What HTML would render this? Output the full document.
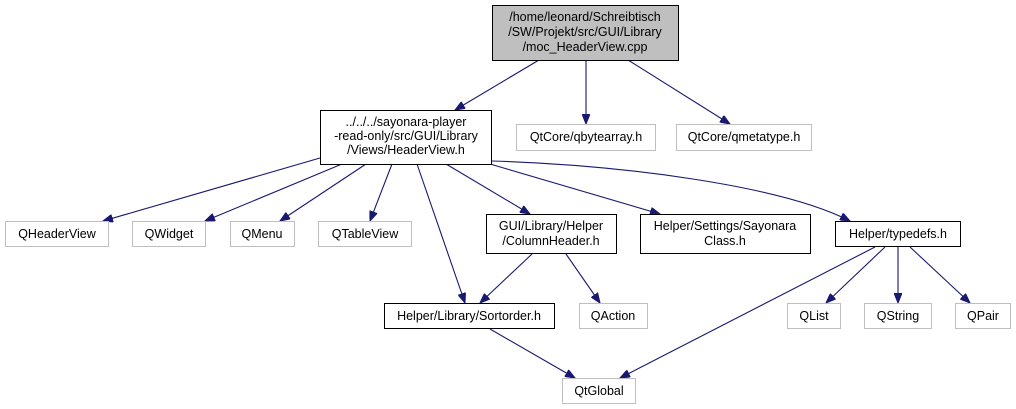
<!DOCTYPE html>
<html><head><meta charset="utf-8"><style>
html,body{margin:0;padding:0;background:#fff;width:1016px;height:409px;overflow:hidden}
svg text{font-family:"Liberation Sans",Arial,sans-serif;font-size:12.5px;fill:#000;text-anchor:middle;dominant-baseline:central}
.e{stroke:#191970;stroke-width:1.1;fill:none;marker-end:url(#a)}
.n{fill:#fff;stroke:#000;stroke-width:1}
.g{fill:#fff;stroke:#bfbfbf;stroke-width:1}
</style></head><body>
<svg width="1016" height="409" viewBox="0 0 1016 409" xmlns="http://www.w3.org/2000/svg">
<defs><marker id="a" markerWidth="11" markerHeight="8" refX="10" refY="4" orient="auto" markerUnits="userSpaceOnUse"><path d="M0,0 L10,4 L0,8 z" fill="#191970" stroke="#191970"/></marker></defs>
<path class="e" d="M539,60 L455,110"/>
<path class="e" d="M586,60 L586,124"/>
<path class="e" d="M628,60 L730,124"/>
<path class="e" d="M320,158 L103,221"/>
<path class="e" d="M342,164 L205,221"/>
<path class="e" d="M366,164 L280,221"/>
<path class="e" d="M392,164 L370,221"/>
<path class="e" d="M417,164 L465,303"/>
<path class="e" d="M446,164 L530,214"/>
<path class="e" d="M490,164 L660,214"/>
<path class="e" d="M492,161 C620,165 780,185 850,221"/>
<path class="e" d="M532,254 L480,303"/>
<path class="e" d="M566,254 L600,303"/>
<path class="e" d="M490,329 L575,378"/>
<path class="e" d="M875,247 L620,378"/>
<path class="e" d="M885,247 L826,303"/>
<path class="e" d="M898,247 L898,303"/>
<path class="e" d="M910,247 L970,303"/>

<rect x="492.5" y="5.5" width="186" height="55" fill="#bfbfbf" stroke="#000"/>
<text x="585" y="17">/home/leonard/Schreibtisch</text>
<text x="585" y="32">/SW/Projekt/src/GUI/Library</text>
<text x="585" y="47">/moc_HeaderView.cpp</text>

<rect class="n" x="320.5" y="110.5" width="171" height="54"/>
<text x="406" y="122">../../../sayonara-player</text>
<text x="406" y="136">-read-only/src/GUI/Library</text>
<text x="406" y="150">/Views/HeaderView.h</text>

<rect class="g" x="516.5" y="124.5" width="139" height="26"/><text x="586" y="137">QtCore/qbytearray.h</text>
<rect class="g" x="676.5" y="124.5" width="135" height="26"/><text x="744" y="137">QtCore/qmetatype.h</text>

<rect class="g" x="5.5" y="221.5" width="103" height="25"/><text x="57" y="234">QHeaderView</text>
<rect class="g" x="132.5" y="221.5" width="73" height="25"/><text x="169" y="234">QWidget</text>
<rect class="g" x="230.5" y="221.5" width="64" height="25"/><text x="262" y="234">QMenu</text>
<rect class="g" x="318.5" y="221.5" width="93" height="25"/><text x="365" y="234">QTableView</text>

<rect class="n" x="486.5" y="214.5" width="130" height="39"/>
<text x="551" y="226">GUI/Library/Helper</text>
<text x="551" y="241">/ColumnHeader.h</text>
<rect class="n" x="640.5" y="214.5" width="170" height="39"/>
<text x="725" y="226">Helper/Settings/Sayonara</text>
<text x="725" y="241">Class.h</text>
<rect class="n" x="835.5" y="221.5" width="125" height="25"/><text x="898" y="234">Helper/typedefs.h</text>

<rect class="n" x="384.5" y="303.5" width="170" height="25"/><text x="469" y="316">Helper/Library/Sortorder.h</text>
<rect class="g" x="579.5" y="303.5" width="68" height="25"/><text x="613" y="316">QAction</text>
<rect class="g" x="787.5" y="303.5" width="53" height="25"/><text x="814" y="316">QList</text>
<rect class="g" x="864.5" y="303.5" width="67" height="25"/><text x="898" y="316">QString</text>
<rect class="g" x="955.5" y="303.5" width="55" height="25"/><text x="983" y="316">QPair</text>
<rect class="g" x="562.5" y="378.5" width="73" height="25"/><text x="599" y="391">QtGlobal</text>
</svg>
</body></html>
